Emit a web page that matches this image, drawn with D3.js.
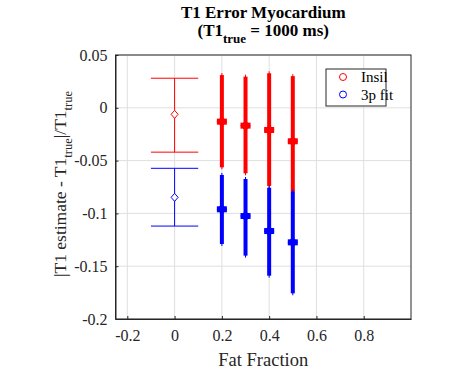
<!DOCTYPE html>
<html>
<head>
<meta charset="utf-8">
<script src="https://cdn.jsdelivr.net/npm/d3@7"></script>
<style>
  body { margin: 0; background: #fff; }
  svg text { font-family: 'Liberation Serif', 'DejaVu Serif', serif; fill: #262626; }
</style>
</head>
<body>
<div id="chart"></div>
<script>
// data
var seriesNames = ['Insil', '3p fit']
var seriesColors = ['#ff0000', '#0000ff']
var fatFractions = [0, 0.2, 0.3, 0.4, 0.5]
var insilMean = [-0.0062, -0.0131, -0.0169, -0.0210, -0.0317]
var insilLow = [-0.042, -0.0564, -0.062, -0.074, -0.080]
var insilHigh = [0.028, 0.031, 0.0295, 0.0327, 0.030]
var fitMean = [-0.0848, -0.0961, -0.1025, -0.1167, -0.1274]
var fitLow = [-0.112, -0.129, -0.140, -0.159, -0.1757]
var fitHigh = [-0.0573, -0.0636, -0.0674, -0.0757, -0.0794]
var xTicks = [-0.2, 0, 0.2, 0.4, 0.6, 0.8]
var yTicks = [0.05, 0, -0.05, -0.1, -0.15, -0.2]

var width = 469, height = 369
var margin = {top: 55, right: 58, bottom: 50, left: 115.5}
var serif = "'Liberation Serif', 'DejaVu Serif', serif"

var svg = d3.select("#chart")
  .append("svg")
  .attr("width", width)
  .attr("height", height)

var xScale = d3.scaleLinear()
  .domain([-0.25, 1.0])
  .range([margin.left, width - margin.right])

var yScale = d3.scaleLinear()
  .domain([-0.2, 0.05])
  .range([height - margin.bottom, margin.top])

// grid
var gridColor = '#dfdfdf'
svg.append("g")
  .selectAll("line")
  .data(xTicks)
  .enter()
  .append("line")
  .attr("x1", d => xScale(d)).attr("x2", d => xScale(d))
  .attr("y1", yScale(-0.2)).attr("y2", yScale(0.05))
  .style("stroke", gridColor)
svg.append("g")
  .selectAll("line")
  .data(yTicks)
  .enter()
  .append("line")
  .attr("y1", d => yScale(d)).attr("y2", d => yScale(d))
  .attr("x1", xScale(-0.25)).attr("x2", xScale(1.0))
  .style("stroke", gridColor)

// axes (MATLAB style: ticks inside, plain hyphen minus)
var fmt = d => String(+d.toFixed(2))
var xAxis = d3.axisBottom(xScale)
  .tickValues(xTicks)
  .tickSizeInner(-3)
  .tickSizeOuter(0)
  .tickPadding(10.5)
  .tickFormat(fmt)
svg.append("g")
  .attr("transform", `translate(0,${height - margin.bottom})`)
  .call(xAxis)
  .attr("font-family", serif)
  .attr("font-size", 16)

var yAxis = d3.axisLeft(yScale)
  .tickValues(yTicks)
  .tickSizeInner(-3)
  .tickSizeOuter(0)
  .tickPadding(8)
  .tickFormat(fmt)
svg.append("g")
  .attr("transform", `translate(${margin.left},0)`)
  .call(yAxis)
  .attr("font-family", serif)
  .attr("font-size", 16)

svg.selectAll(".tick text").style("fill", "#262626")
svg.selectAll(".domain, .tick line").style("stroke", "#262626")

// frame
svg.append("rect")
  .attr("x", xScale(-0.25))
  .attr("y", yScale(0.05))
  .attr("width", xScale(1.0) - xScale(-0.25))
  .attr("height", yScale(-0.2) - yScale(0.05))
  .style("fill", "none")
  .style("stroke", "#262626")
  .style("stroke-width", 1)

var series = [
  {name: seriesNames[0], color: seriesColors[0], mean: insilMean, lo: insilLow, hi: insilHigh},
  {name: seriesNames[1], color: seriesColors[1], mean: fitMean, lo: fitLow, hi: fitHigh}
]

var diamond = (cx, cy, w, h) => `M${cx},${cy - h}L${cx + w},${cy}L${cx},${cy + h}L${cx - w},${cy}Z`

series.forEach(function(s) {
  var pts = fatFractions.map((f, i) => ({x: f, m: s.mean[i], lo: s.lo[i], hi: s.hi[i]}))
  var g = svg.append("g")

  // reference point at 0: thin error bar with wide caps
  var ref = pts.filter(d => d.x === 0)
  g.selectAll("line.thin")
    .data(ref)
    .enter()
    .append("line")
    .attr("x1", d => xScale(d.x)).attr("x2", d => xScale(d.x))
    .attr("y1", d => yScale(d.lo)).attr("y2", d => yScale(d.hi))
    .style("stroke", s.color)
  ref.forEach(function(d) {
    [d.lo, d.hi].forEach(function(v) {
      g.append("line")
        .attr("x1", xScale(d.x - 0.1)).attr("x2", xScale(d.x + 0.1))
        .attr("y1", yScale(v)).attr("y2", yScale(v))
        .style("stroke", s.color)
    })
    g.append("path")
      .attr("d", diamond(xScale(d.x), yScale(d.m), 3.5, 4))
      .style("fill", "#fff")
      .style("stroke", s.color)
  })

  // fat fraction points: thick error bars
  var thick = pts.filter(d => d.x !== 0)
  g.selectAll("line.hair")
    .data(thick)
    .enter()
    .append("line")
    .attr("x1", d => xScale(d.x)).attr("x2", d => xScale(d.x))
    .attr("y1", d => yScale(d.lo) + 2).attr("y2", d => yScale(d.hi) - 2)
    .style("stroke", s.color)
    .style("stroke-width", 1)
  g.selectAll("line.bar")
    .data(thick)
    .enter()
    .append("line")
    .attr("x1", d => xScale(d.x)).attr("x2", d => xScale(d.x))
    .attr("y1", d => yScale(d.lo)).attr("y2", d => yScale(d.hi))
    .style("stroke", s.color)
    .style("stroke-width", 4)
  g.selectAll("path.mark")
    .data(thick)
    .enter()
    .append("path")
    .attr("d", d => diamond(xScale(d.x), yScale(d.m), 3.5, 3.5))
    .style("fill", s.color)
    .style("stroke", s.color)
    .style("stroke-width", 2.5)
  g.selectAll("rect.mark")
    .data(thick)
    .enter()
    .append("rect")
    .attr("x", d => xScale(d.x) - 5)
    .attr("y", d => yScale(d.m) - 3)
    .attr("width", 10)
    .attr("height", 6)
    .style("fill", s.color)
})

// legend
var legend = svg.append("g").attr("transform", "translate(326,69)")
legend.append("rect")
  .attr("width", 60).attr("height", 37)
  .style("fill", "#fff")
  .style("stroke", "#262626")
series.forEach(function(s, i) {
  legend.append("circle")
    .attr("cx", 17).attr("cy", 8 + i * 17.5)
    .attr("r", 3.5)
    .style("fill", "none")
    .style("stroke", s.color)
  legend.append("text")
    .attr("x", 35).attr("y", 13 + i * 17.5)
    .attr("font-family", serif)
    .attr("font-size", 15)
    .style("fill", "#000")
    .text(s.name)
})

// title
var cx = (xScale(-0.25) + xScale(1.0)) / 2
svg.append("text")
  .attr("x", cx).attr("y", 18)
  .attr("text-anchor", "middle")
  .attr("font-family", serif)
  .attr("font-size", 17)
  .attr("font-weight", "bold")
  .style("fill", "#000")
  .text("T1 Error Myocardium")
var t2 = svg.append("text")
  .attr("x", cx).attr("y", 36)
  .attr("text-anchor", "middle")
  .attr("font-family", serif)
  .attr("font-size", 17)
  .attr("font-weight", "bold")
  .style("fill", "#000")
t2.append("tspan").text("(T1")
t2.append("tspan").attr("dy", 7).attr("font-size", 13).text("true")
t2.append("tspan").attr("dy", -7).text(" = 1000 ms)")

// axis labels
svg.append("text")
  .attr("x", cx).attr("y", 366)
  .attr("text-anchor", "middle")
  .attr("font-family", serif)
  .attr("font-size", 18.5)
  .text("Fat Fraction")

var yl = svg.append("text")
  .attr("transform", "translate(66,184) rotate(-90)")
  .attr("text-anchor", "middle")
  .attr("font-family", serif)
  .attr("font-size", 17.5)
yl.append("tspan").text("|T1 estimate - T1")
yl.append("tspan").attr("dy", 6).attr("font-size", 12.5).text("true")
yl.append("tspan").attr("dy", -6).text("|/T1")
yl.append("tspan").attr("dy", 6).attr("font-size", 12.5).text("true")
</script>
</body>
</html>
